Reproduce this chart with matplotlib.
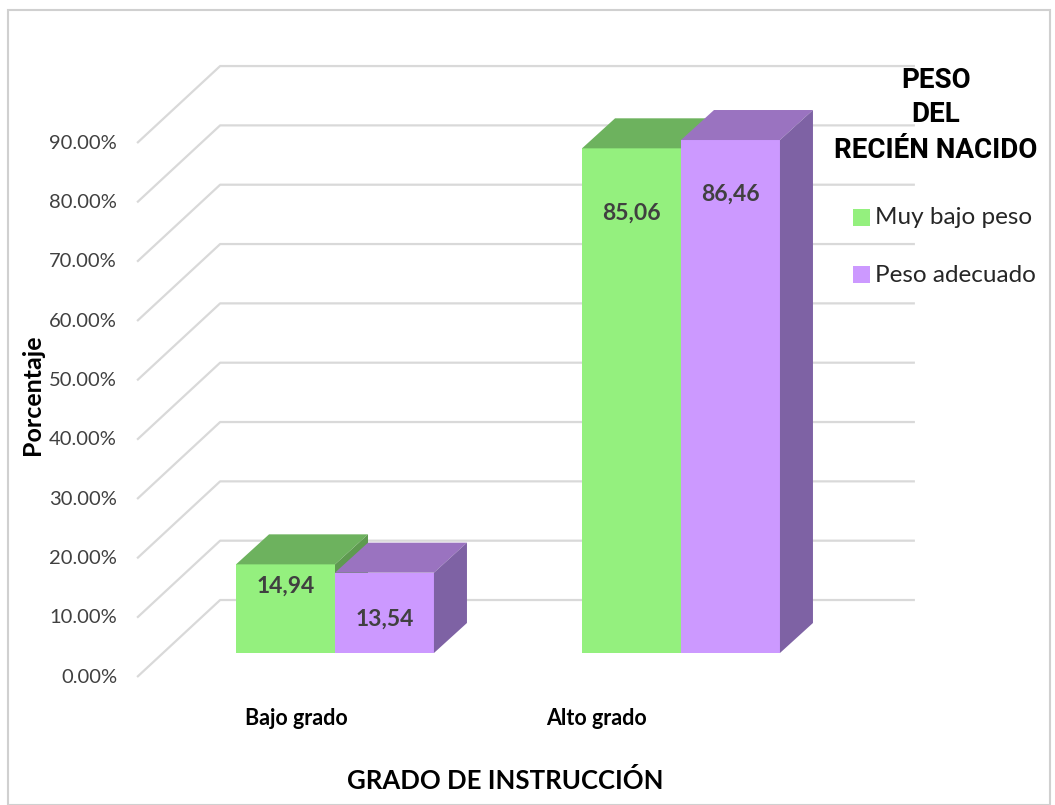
import matplotlib
matplotlib.use("Agg")
import matplotlib.pyplot as plt
from matplotlib.patches import Polygon, Rectangle

# data
categories = ["Bajo grado", "Alto grado"]
series_names = ["Muy bajo peso", "Peso adecuado"]
muy_bajo_peso = [14.94, 85.06]
peso_adecuado = [13.54, 86.46]
tick_values = [0, 10, 20, 30, 40, 50, 60, 70, 80, 90]

# styling / layout
front_colors = ["#94F07E", "#CC99FF"]
top_colors = ["#6DB25E", "#9A73C0"]
side_colors = ["#5E9A50", "#7E62A4"]
grid_color = "#D9D9D9"
body_font = ["Lato", "DejaVu Sans"]
title_font = ["Roboto", "DejaVu Sans"]

bar_w = 0.286
dx, dy = 0.0954, 5.06          # depth offset of the 3D boxes
wall_xf, wall_xb, wall_xr = -0.572, -0.332, 1.676
wall_front_off, wall_back_off = -4.05, 8.93
label_drop = [[3.6, 10.9], [7.8, 9.1]]   # where Excel put the value labels
cat_label_x = [-0.113, 0.757]

fig = plt.figure(figsize=(10.55, 8.05), dpi=100)
ax = fig.add_axes([0, 0, 1, 1])
ax.set_xlim((0 - 335) / 346, (1055 - 335) / 346)
ax.set_ylim((653 - 805) / 5.933, 653 / 5.933)
ax.axis("off")

# outer frame
fig.patches.append(Rectangle((8 / 1055, 0), 1042 / 1055, 1 - 10 / 805, transform=fig.transFigure,
                             fill=False, edgecolor="#D0D0D0", lw=1.5))

# back wall and side wall gridlines
for v in tick_values:
    ax.plot([wall_xf, wall_xb, wall_xr], [v + wall_front_off, v + wall_back_off, v + wall_back_off],
            color=grid_color, lw=1.6, zorder=1, solid_capstyle="butt")
    ax.text(-0.630, v + wall_front_off, f"{v:.2f}%", ha="right", va="center",
            fontsize=14.5, color="#404040", family=body_font)


def box(x0, h, k, z):
    ax.add_patch(Rectangle((x0, 0), bar_w, h, facecolor=front_colors[k], edgecolor="none", zorder=z))
    ax.add_patch(Polygon([(x0, h), (x0 + bar_w, h), (x0 + bar_w + dx, h + dy), (x0 + dx, h + dy)],
                         closed=True, facecolor=top_colors[k], edgecolor="none", zorder=z))
    ax.add_patch(Polygon([(x0 + bar_w, 0), (x0 + bar_w + dx, dy), (x0 + bar_w + dx, h + dy), (x0 + bar_w, h)],
                         closed=True, facecolor=side_colors[k], edgecolor="none", zorder=z))


for i, cat in enumerate(categories):
    for k, vals in enumerate([muy_bajo_peso, peso_adecuado]):
        x0 = i - bar_w + k * bar_w
        box(x0, vals[i], k, 3 + k)
        ax.text(x0 + bar_w / 2, vals[i] - label_drop[k][i], f"{vals[i]:.2f}".replace(".", ","),
                ha="center", va="center", fontsize=16.5, fontweight="bold", color="#404040",
                family=body_font, zorder=10)
    ax.text(cat_label_x[i], -10.96, cat, ha="center", va="center", fontsize=15.5,
            fontweight="bold", color="black", family=body_font)

# axis titles
fig.text(505 / 1055, 1 - 780 / 805, "GRADO DE INSTRUCCIÓN", ha="center", va="center",
         fontsize=18.5, fontweight="bold", family=body_font)
fig.text(32 / 1055, 1 - 395 / 805, "Porcentaje", ha="center", va="center", rotation=90,
         fontsize=18, fontweight="bold", family=body_font)

# legend
for j, line in enumerate(["PESO", "DEL", "RECIÉN NACIDO"]):
    fig.text(936 / 1055, 1 - (80 + 35 * j) / 805, line, ha="center", va="center",
             fontsize=20, fontweight="bold", family=title_font)
for k, name in enumerate(series_names):
    yy = 1 - (218 + 57 * k) / 805
    fig.patches.append(Rectangle((853 / 1055, yy - 8.5 / 805), 17 / 1055, 17 / 805,
                                 transform=fig.transFigure, facecolor=front_colors[k], edgecolor="none"))
    fig.text(875 / 1055, yy, name, ha="left", va="center", fontsize=17.5, color="#262626",
             family=body_font)

fig.savefig("out.png", dpi=100)
